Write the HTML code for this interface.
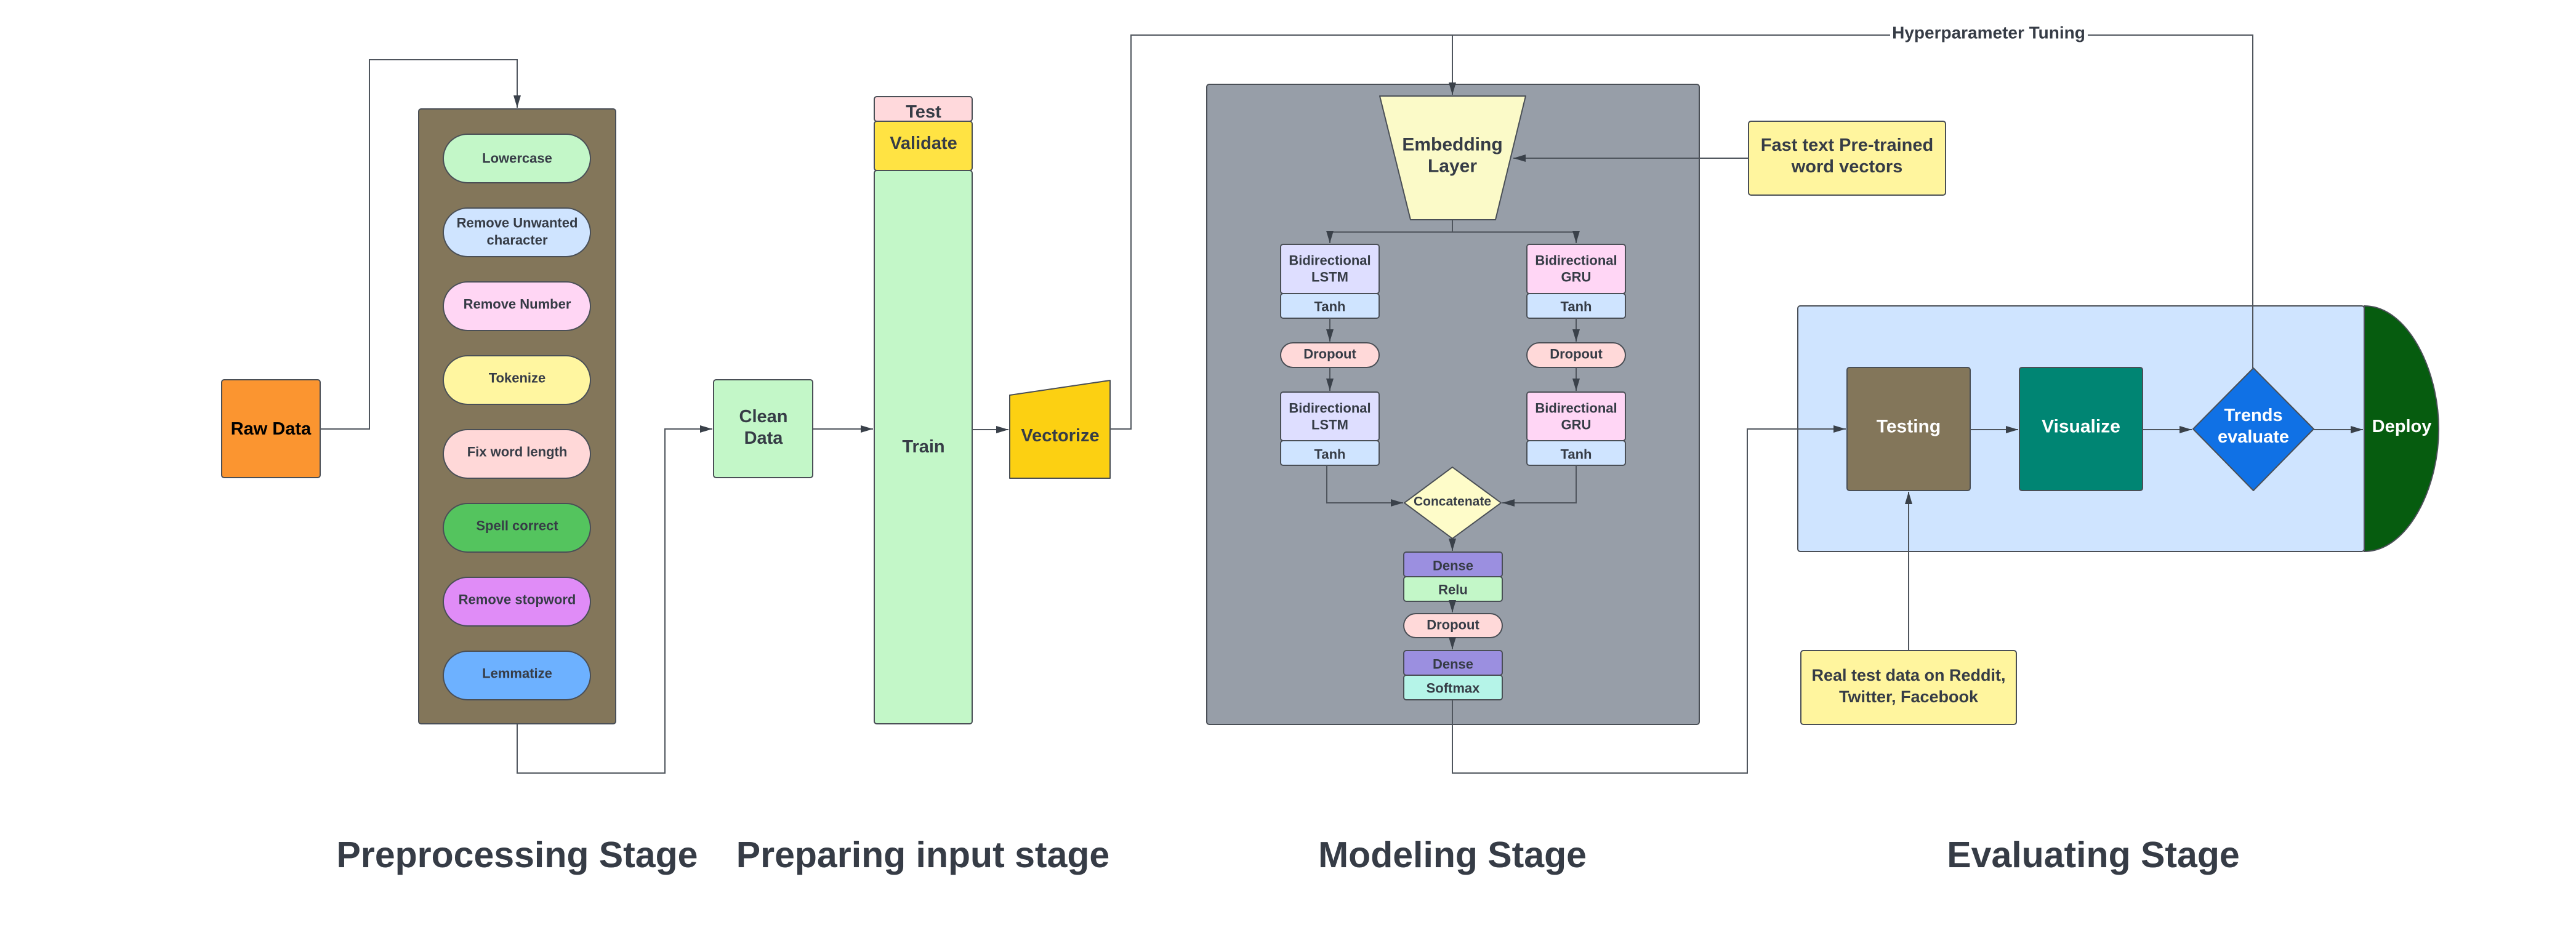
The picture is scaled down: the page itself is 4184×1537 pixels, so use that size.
<!DOCTYPE html>
<html><head><meta charset="utf-8"><style>
html,body{margin:0;padding:0;background:#fff}
svg{display:block}
text{font-family:"Liberation Sans",Arial,sans-serif;font-weight:bold;fill:#363c46;text-anchor:middle;dominant-baseline:central}
</style></head><body>
<svg width="4184" height="1537" viewBox="0 0 4184 1537" xmlns="http://www.w3.org/2000/svg">
<defs>
<marker id="b" markerWidth="22" markerHeight="16" refX="20" refY="8" orient="auto" markerUnits="userSpaceOnUse"><path d="M0,2 L20,8 L0,14 z" fill="#3a414a"/></marker>
</defs>
<!-- shapes -->
<g stroke="#4a4f56" stroke-width="2">
<rect x="360" y="617" width="160" height="159" rx="4" fill="#fb9530"/>
<rect x="680" y="177" width="320" height="999" rx="4" fill="#83765a"/>
<rect x="720" y="218" width="239" height="79" rx="39.5" fill="#c3f7c8"/>
<rect x="720" y="338" width="239" height="79" rx="39.5" fill="#cfe4ff"/>
<rect x="720" y="458" width="239" height="79" rx="39.5" fill="#ffd6f4"/>
<rect x="720" y="578" width="239" height="79" rx="39.5" fill="#fff6a0"/>
<rect x="720" y="698" width="239" height="79" rx="39.5" fill="#ffd8d8"/>
<rect x="720" y="818" width="239" height="79" rx="39.5" fill="#54c45e"/>
<rect x="720" y="938" width="239" height="79" rx="39.5" fill="#e08cf7"/>
<rect x="720" y="1058" width="239" height="79" rx="39.5" fill="#6db1ff"/>
<rect x="1159" y="617" width="161" height="159" rx="4" fill="#c3f7c8"/>
<rect x="1420" y="157" width="159" height="40" rx="4" fill="#ffd9dc"/>
<rect x="1420" y="197" width="159" height="80" rx="4" fill="#ffe343"/>
<rect x="1420" y="277" width="159" height="899" rx="4" fill="#c3f7c8"/>
<path d="M1640,642 L1803,618 V777 H1640 Z" fill="#fcd012" stroke-linejoin="round"/>
<rect x="1960" y="137" width="800" height="1040" rx="4" fill="#979ea8"/>
<path d="M2241,156 H2478 L2429,357 H2291 Z" fill="#fbfac8" stroke-linejoin="round"/>
<rect x="2840" y="197" width="320" height="120" rx="4" fill="#fff59e"/>
<rect x="2080" y="397" width="160" height="80" rx="4" fill="#dedeff"/>
<rect x="2080" y="477" width="160" height="40" rx="4" fill="#cfe4ff"/>
<rect x="2080" y="557" width="160" height="40" rx="20" fill="#ffd9d9"/>
<rect x="2080" y="637" width="160" height="79" rx="4" fill="#dedeff"/>
<rect x="2080" y="716" width="160" height="40" rx="4" fill="#cfe4ff"/>
<rect x="2480" y="397" width="160" height="80" rx="4" fill="#ffd6f5"/>
<rect x="2480" y="477" width="160" height="40" rx="4" fill="#cfe4ff"/>
<rect x="2480" y="557" width="160" height="40" rx="20" fill="#ffd9d9"/>
<rect x="2480" y="637" width="160" height="79" rx="4" fill="#ffd6f5"/>
<rect x="2480" y="716" width="160" height="40" rx="4" fill="#cfe4ff"/>
<path d="M2359,759 L2438,817 L2359,875 L2281,817 Z" fill="#fefcc9" stroke-linejoin="round"/>
<rect x="2280" y="897" width="160" height="40" rx="4" fill="#9b8fe0"/>
<rect x="2280" y="937" width="160" height="40" rx="4" fill="#c3f7c8"/>
<rect x="2280" y="997" width="160" height="39" rx="19.5" fill="#ffd9d9"/>
<rect x="2280" y="1057" width="160" height="40" rx="4" fill="#9b8fe0"/>
<rect x="2280" y="1097" width="160" height="40" rx="4" fill="#b5f4e8"/>
<rect x="2920" y="497" width="920" height="399" rx="4" fill="#cfe4ff"/>
<path d="M3840,497 C3910,497 3961,600 3961,697 C3961,794 3910,896 3840,896 Z" fill="#065c0f"/>
<rect x="3000" y="597" width="200" height="200" rx="4" fill="#83765a"/>
<rect x="3280" y="597" width="200" height="200" rx="4" fill="#008573"/>
<path d="M3660,598 L3758,697 L3660,797 L3562,697 Z" fill="#1071e5" stroke-linejoin="round"/>
<rect x="2925" y="1057" width="350" height="120" rx="4" fill="#fff59e"/>
</g>
<!-- connectors -->
<g stroke="#4f555d" stroke-width="2" fill="none">
<path d="M520,697 H600 V97 H840 V175" marker-end="url(#b)"/>
<path d="M840,1176 V1256 H1080 V697 H1157" marker-end="url(#b)"/>
<path d="M1320,697 H1418" marker-end="url(#b)"/>
<path d="M1579,698 H1638" marker-end="url(#b)"/>
<path d="M1803,697 H1837 V57 H3070"/>
<path d="M2359,57 V154" marker-end="url(#b)"/>
<path d="M3391,57 H3659 V598"/>
<path d="M2840,257 H2458" marker-end="url(#b)"/>
<path d="M2359,357 V377 H2160 V395" marker-end="url(#b)"/>
<path d="M2359,377 H2560 V395" marker-end="url(#b)"/>
<path d="M2160,517 V555" marker-end="url(#b)"/>
<path d="M2160,597 V635" marker-end="url(#b)"/>
<path d="M2560,517 V555" marker-end="url(#b)"/>
<path d="M2560,597 V635" marker-end="url(#b)"/>
<path d="M2155,756 V817 H2279" marker-end="url(#b)"/>
<path d="M2560,756 V817 H2440" marker-end="url(#b)"/>
<path d="M2359,875 V895" marker-end="url(#b)"/>
<path d="M2359,977 V995" marker-end="url(#b)"/>
<path d="M2359,1036 V1055" marker-end="url(#b)"/>
<path d="M2359,1137 V1256 H2838 V697 H2998" marker-end="url(#b)"/>
<path d="M3100,1057 V799" marker-end="url(#b)"/>
<path d="M3200,698 H3278" marker-end="url(#b)"/>
<path d="M3480,698 H3560" marker-end="url(#b)"/>
<path d="M3758,698 H3838" marker-end="url(#b)"/>
</g>
<!-- texts -->
<text x="440" y="697" font-size="29" style="fill:#000">Raw Data</text>
<g font-size="22">
<text x="840" y="257">Lowercase</text>
<text x="840" y="362">Remove Unwanted</text>
<text x="840" y="390">character</text>
<text x="840" y="494">Remove Number</text>
<text x="840" y="614">Tokenize</text>
<text x="840" y="734">Fix word length</text>
<text x="840" y="854">Spell correct</text>
<text x="840" y="974">Remove stopword</text>
<text x="840" y="1094">Lemmatize</text>
</g>
<text x="1240" y="677" font-size="29">Clean</text>
<text x="1240" y="712" font-size="29">Data</text>
<text x="1500" y="182" font-size="29">Test</text>
<text x="1500" y="233" font-size="29">Validate</text>
<text x="1500" y="726" font-size="29">Train</text>
<text x="1722" y="708" font-size="29">Vectorize</text>
<text x="2359" y="235" font-size="30">Embedding</text>
<text x="2359" y="270" font-size="30">Layer</text>
<text x="3000" y="236" font-size="29">Fast text Pre-trained</text>
<text x="3000" y="271" font-size="29">word vectors</text>
<g font-size="22">
<text x="2160" y="423">Bidirectional</text>
<text x="2160" y="450">LSTM</text>
<text x="2160" y="498">Tanh</text>
<text x="2160" y="575">Dropout</text>
<text x="2160" y="663">Bidirectional</text>
<text x="2160" y="690">LSTM</text>
<text x="2160" y="738">Tanh</text>
<text x="2560" y="423">Bidirectional</text>
<text x="2560" y="450">GRU</text>
<text x="2560" y="498">Tanh</text>
<text x="2560" y="575">Dropout</text>
<text x="2560" y="663">Bidirectional</text>
<text x="2560" y="690">GRU</text>
<text x="2560" y="738">Tanh</text>
<text x="2359" y="815" font-size="21">Concatenate</text>
<text x="2360" y="919">Dense</text>
<text x="2360" y="958">Relu</text>
<text x="2360" y="1015">Dropout</text>
<text x="2360" y="1079">Dense</text>
<text x="2360" y="1118">Softmax</text>
</g>
<text x="3230" y="53" font-size="28">Hyperparameter Tuning</text>
<g font-size="30">
<text x="3100" y="693" style="fill:#fff">Testing</text>
<text x="3380" y="693" style="fill:#fff">Visualize</text>
<text x="3660" y="675" font-size="29" style="fill:#fff">Trends</text>
<text x="3660" y="710" font-size="29" style="fill:#fff">evaluate</text>
<text x="3901" y="693" font-size="29" style="fill:#fff">Deploy</text>
</g>
<text x="3100" y="1097" font-size="27">Real test data on Reddit,</text>
<text x="3100" y="1132" font-size="27">Twitter, Facebook</text>
<g font-size="59">
<text x="840" y="1389">Preprocessing Stage</text>
<text x="1499" y="1389">Preparing input stage</text>
<text x="2359" y="1389">Modeling Stage</text>
<text x="3400" y="1389">Evaluating Stage</text>
</g>
</svg>
</body></html>
